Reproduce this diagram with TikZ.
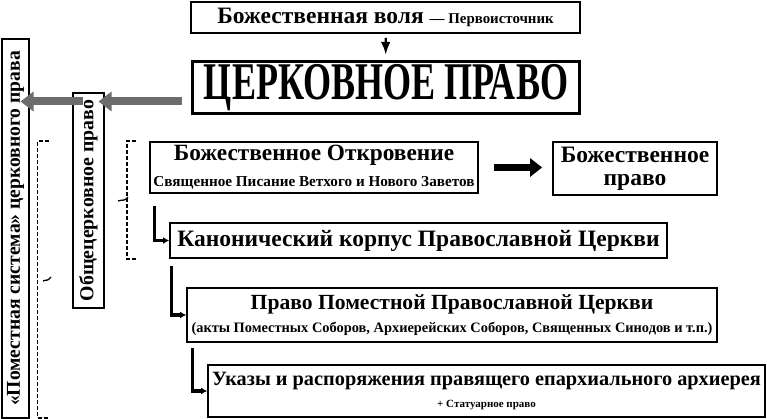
\documentclass[tikz,border=0pt]{standalone}
\usepackage{fontspec}
\setmainfont{Liberation Serif}
\usepackage{graphicx}
\usepackage{tikz}
\usetikzlibrary{arrows.meta,positioning,calc}

\newcommand{\fsz}[1]{\fontsize{#1}{1.15\dimexpr#1pt\relax}\selectfont}

\begin{document}
\begin{tikzpicture}[>=Latex, x=1pt, y=-1pt,
    box/.style={draw, line width=1.8pt, inner sep=0pt, align=center},
    vbox/.style={box, rotate=90},
    grayarrow/.style={line width=8pt, gray!85!black, -{Triangle[length=13pt, width=19pt]}},
    blackarrow/.style={line width=7pt, -{Triangle[length=12pt, width=18pt]}},
    larrow/.style={line width=3.2pt, -{Latex[length=6pt, width=7pt]}},
    bracket/.style={line width=1.6pt, dash pattern=on 4pt off 2pt}]
    \useasboundingbox (0,0) rectangle (767,419);

    % main chain
    \node[box, minimum width=389pt, minimum height=31pt, font=\bfseries\fsz{23.5}] (will) at (385.5,17.5)
        {Божественная воля {\fsz{14.9}— Первоисточник}};
    \node[box, line width=3.6pt, minimum width=387pt, minimum height=52pt, font=\bfseries\fsz{53}] (church) at (386,87.5)
        {\scalebox{0.68}[1]{ЦЕРКОВНОЕ ПРАВО}};
    \draw[line width=2.2pt, ->, shorten <=4pt, shorten >=5pt] (will) -- (church);

    % vertical boxes on the left
    \node[vbox, minimum width=215pt, minimum height=31pt, font=\bfseries\fsz{19.8}] (general) at (88.5,200.5)
        {Общецерковное право};
    \node[vbox, minimum width=379pt, minimum height=27pt, font=\bfseries\fsz{19.6}] (local) at (15.5,228.5)
        {«Поместная система» церковного права};

    \coordinate (g1) at ($(church.west)+(-9,14)$);
    \draw[grayarrow, shorten >=10pt] (g1) -- (g1 -| general.east);
    \coordinate (g2) at ($(general.west |- g1)+(-6,0)$);
    \draw[grayarrow, shorten >=5pt] (g2) -- (g2 -| local.east);

    % sources
    \node[box, minimum width=328pt, minimum height=51pt, font=\bfseries\fsz{23.3}] (revel) at (314,167.5)
        {Божественное Откровение\\[-1pt]{\fsz{15.2}Священное Писание Ветхого и Нового Заветов}};
    \node[box, minimum width=164pt, minimum height=53pt, font=\bfseries\fsz{23.5}] (divlaw) at (635,168.5)
        {Божественное\\[-4pt]право};
    \draw[blackarrow, shorten <=15pt, shorten >=10pt] (revel.east) -- (revel.east -| divlaw.west);

    \node[box, minimum width=497pt, minimum height=35pt, font=\bfseries\fsz{23.5}] (canon) at (418.5,240.5)
        {Канонический корпус Православной Церкви};
    \node[box, minimum width=530pt, minimum height=54pt, font=\bfseries\fsz{21.6}] (localch) at (452,315)
        {Право Поместной Православной Церкви\\[-2pt]{\fsz{14.4}(акты Поместных Соборов, Архиерейских Соборов, Священных Синодов и т.п.)}};
    \node[box, minimum width=557pt, minimum height=52pt, font=\bfseries\fsz{20.3}] (decree) at (486.5,391)
        {Указы и распоряжения правящего епархиального архиерея\\[-2pt]{\fsz{11}+ Статуарное право}};

    \draw[larrow] ($(revel.south west)+(5,12)$) |- (canon.west);
    \draw[larrow] ($(canon.south west)+(2,7)$) |- (localch.west);
    \draw[larrow] ($(localch.south west)+(6,5)$) |- (decree.west);

    % dashed brackets
    \coordinate (bA) at ($(revel.north west)+(-13,0)$);
    \draw[bracket] (bA) -- ++(-9,0) |- (bA |- canon.south);
    \draw[line width=1.3pt] (128,197) .. controls (124,202) and (123,199) .. (118,201);
    \coordinate (bB) at ($(revel.north -| local.east)+(33,0)$);
    \draw[bracket] (bB) -- ++(-11,0) |- (bB |- decree.south);
    \draw[line width=1.3pt] (51,277) .. controls (47,282) and (47,279) .. (43,281);
\end{tikzpicture}
\end{document}
